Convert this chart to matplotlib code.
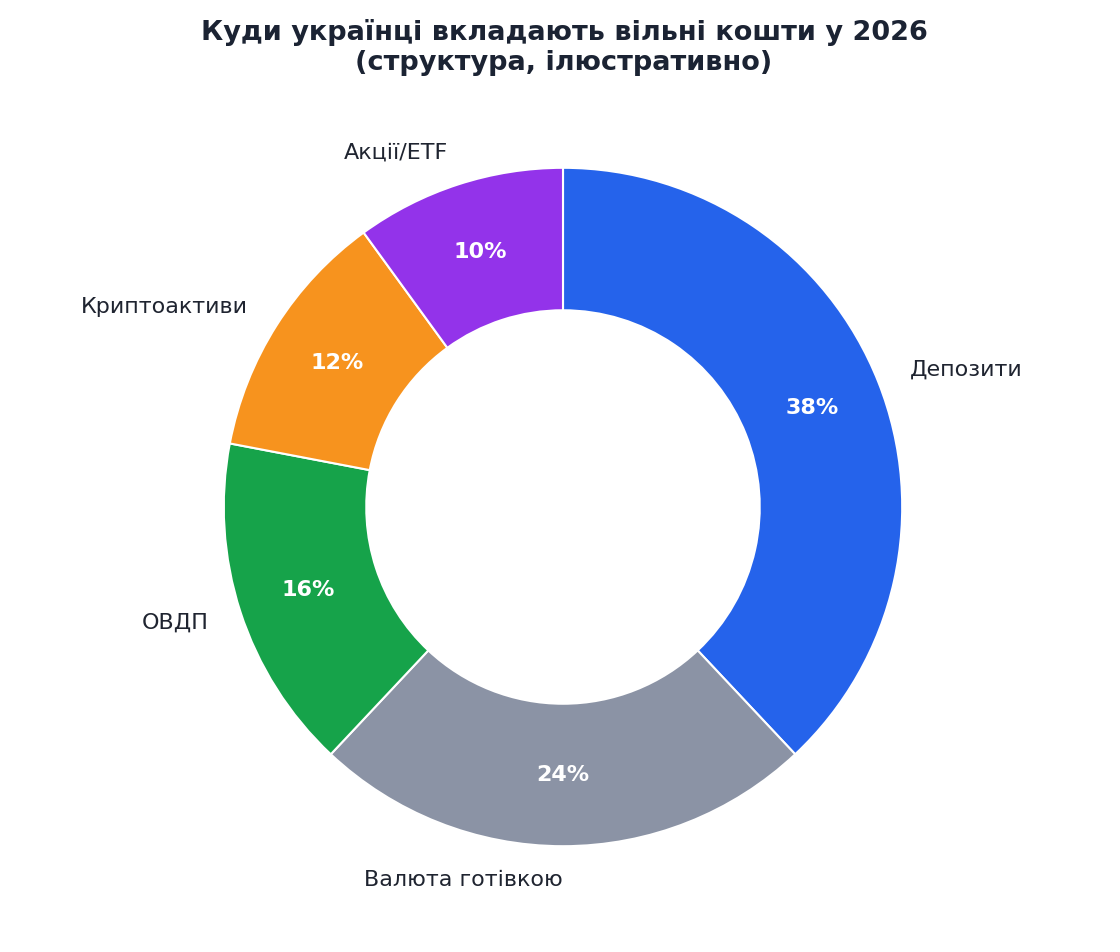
import matplotlib
matplotlib.use("Agg")
import matplotlib.pyplot as plt

categories = ["Депозити", "Валюта готівкою", "ОВДП", "Криптоактиви", "Акції/ETF"]
values = [38, 24, 16, 12, 10]
colors = ["#2563eb", "#8b93a5", "#16a34a", "#f7931e", "#9333ea"]
title = "Куди українці вкладають вільні кошти у 2026\n(структура, ілюстративно)"

plt.rcParams['font.family'] = ['DejaVu Sans']
fig = plt.figure(figsize=(11.2, 9.52), dpi=100)
ax = fig.add_axes([139/1120, 21/952, 848/1120, 848/952])

wedges, texts, autotexts = ax.pie(
    values, labels=categories, colors=colors, startangle=90, counterclock=False,
    autopct='%1.0f%%', pctdistance=0.79, labeldistance=1.1,
    wedgeprops=dict(width=0.42, edgecolor='white', linewidth=1.5),
    textprops=dict(fontsize=16, color='#1f2430'))
for t in autotexts:
    t.set_color('white')
    t.set_fontweight('bold')
    t.set_fontsize(16)
ax.set_aspect('equal')

fig.suptitle(title, x=564/1120, y=1 - 19/952, va='top', fontsize=19.5, fontweight='bold', color='#1b2333')
fig.savefig("out.png", dpi=100)
